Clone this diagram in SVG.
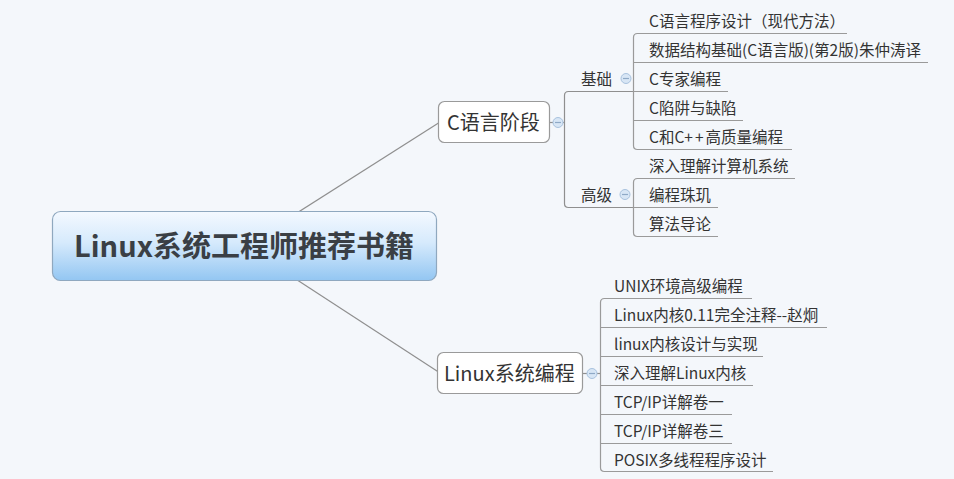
<svg xmlns="http://www.w3.org/2000/svg" width="954" height="479" viewBox="0 0 954 479">
<defs>
<linearGradient id="rootg" x1="0" y1="0" x2="0" y2="1">
<stop offset="0" stop-color="#f4f9ff"/>
<stop offset="0.45" stop-color="#d6eafc"/>
<stop offset="1" stop-color="#93c6f2"/>
</linearGradient>
<style>
.bg{fill:#f4f7fb}
.ln{fill:none;stroke:#8f8f8f;stroke-width:1.2}
.ul{fill:none;stroke:#9a9a9a;stroke-width:1.2}
.box{fill:#ffffff;stroke:#9a9a9a;stroke-width:1.2}
.root{fill:url(#rootg);stroke:#8fa8bf;stroke-width:1.2}
.t{font-family:"Noto Sans CJK SC","Noto Sans",sans-serif;fill:#333333}
.s{font-size:15.5px}
.m{font-size:20px}
.r{font-size:29px;font-weight:bold;fill:#3a3f45}
.cc{fill:#d8e6f5;stroke:#a8c2de;stroke-width:1}
.cm{stroke:#8fa9c6;stroke-width:1.2}
</style>
</defs>
<rect class="bg" x="0" y="0" width="954" height="479"/>
<g id="connectors">
<path class="ln" d="M245 246 L438.5 123"/>
<path class="ln" d="M245 246 L438.5 372"/>
<path class="ln" d="M550 122.5 H564.5"/>
<path class="ln" d="M633 91.5 H568.5 Q564.5 91.5 564.5 95.5 V203.5 Q564.5 207.5 568.5 207.5 H633"/>
<path class="ul" d="M847 33.5 H637.5 Q633.5 33.5 633.5 37.5 V145.5 Q633.5 149.5 637.5 149.5 H792"/>
<path class="ul" d="M633.5 62.5 H928"/>
<path class="ul" d="M633.5 91.5 H728"/>
<path class="ul" d="M633.5 120.5 H743"/>
<path class="ul" d="M795 178.5 H637.5 Q633.5 178.5 633.5 182.5 V232.5 Q633.5 236.5 637.5 236.5 H718"/>
<path class="ul" d="M633.5 207.5 H718"/>
<path class="ln" d="M583 373.5 H600.5"/>
<path class="ul" d="M752 298.5 H604.5 Q600.5 298.5 600.5 302.5 V467.5 Q600.5 471.5 604.5 471.5 H773"/>
<path class="ul" d="M600.5 327.5 H827"/>
<path class="ul" d="M600.5 356.5 H763"/>
<path class="ul" d="M600.5 385.5 H753"/>
<path class="ul" d="M600.5 414.5 H732"/>
<path class="ul" d="M600.5 443.5 H732"/>
</g>
<g id="root">
<rect class="root" x="52.5" y="211.5" width="384" height="69" rx="8"/>
<text class="t r" x="244" y="256.5" text-anchor="middle">Linux系统工程师推荐书籍</text>
</g>
<g id="c-stage">
<rect class="box" x="438.5" y="101.5" width="111" height="41" rx="6"/>
<text class="t m" x="447" y="129.5">C语言阶段</text>
<circle class="cc" cx="558" cy="122.5" r="5"/>
<path class="cm" d="M555 122.5 H561"/>
</g>
<g id="linux-prog">
<rect class="box" x="437.5" y="352.5" width="145" height="41" rx="6"/>
<text class="t m" x="444" y="380.5">Linux系统编程</text>
<circle class="cc" cx="592" cy="373.5" r="5"/>
<path class="cm" d="M589 373.5 H595"/>
</g>
<g id="basic">
<text class="t s" x="581" y="84.5">基础</text>
<circle class="cc" cx="626" cy="78.5" r="5"/>
<path class="cm" d="M623 78.5 H629"/>
</g>
<g id="advanced">
<text class="t s" x="581" y="200.5">高级</text>
<circle class="cc" cx="625" cy="194.5" r="5"/>
<path class="cm" d="M622 194.5 H628"/>
</g>
<g id="b1"><text class="t s" x="649" y="26.5">C语言程序设计（现代方法）</text></g>
<g id="b2"><text class="t s" x="649" y="55.5">数据结构基础(C语言版)(第2版)朱仲涛译</text></g>
<g id="b3"><text class="t s" x="649" y="84.5">C专家编程</text></g>
<g id="b4"><text class="t s" x="649" y="113.5">C陷阱与缺陷</text></g>
<g id="b5"><text class="t s" x="649" y="142.5">C和C<tspan letter-spacing="2">++</tspan>高质量编程</text></g>
<g id="a1"><text class="t s" x="649" y="171.5">深入理解计算机系统</text></g>
<g id="a2"><text class="t s" x="649" y="200.5">编程珠玑</text></g>
<g id="a3"><text class="t s" x="649" y="229.5">算法导论</text></g>
<g id="l1"><text class="t s" x="614" y="291.5">UNIX环境高级编程</text></g>
<g id="l2"><text class="t s" x="614" y="320.5">Linux内核0.11完全注释--赵炯</text></g>
<g id="l3"><text class="t s" x="614" y="349.5">linux内核设计与实现</text></g>
<g id="l4"><text class="t s" x="614" y="378.5">深入理解Linux内核</text></g>
<g id="l5"><text class="t s" x="614" y="407.5">TCP/IP详解卷一</text></g>
<g id="l6"><text class="t s" x="614" y="436.5">TCP/IP详解卷三</text></g>
<g id="l7"><text class="t s" x="614" y="465.5">POSIX多线程程序设计</text></g>
</svg>
